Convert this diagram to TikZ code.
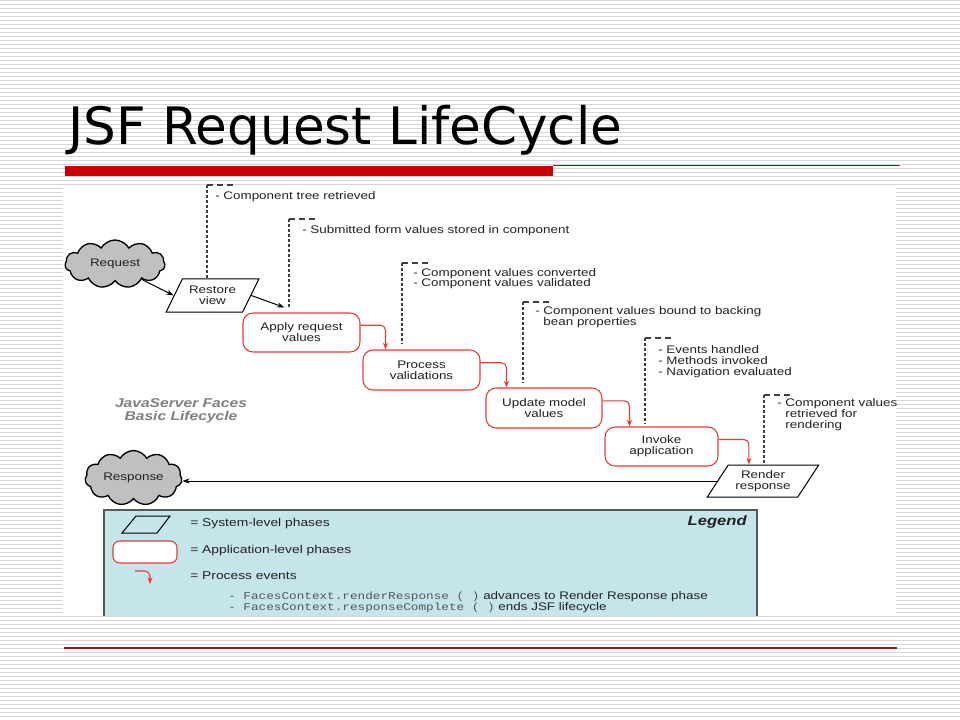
\documentclass[tikz,border=0pt]{standalone}
\usepackage{fontspec}
\setmainfont{Liberation Sans}
\newfontfamily\diag[FakeStretch=1.22]{Liberation Sans}
\newfontfamily\diagmono[FakeStretch=1.22]{Liberation Mono}
\newfontfamily\titlefont{DejaVu Sans}
\usetikzlibrary{shapes.geometric,shapes.symbols,arrows.meta,calc}
\definecolor{appred}{HTML}{E23B3B}
\definecolor{barred}{HTML}{CC0000}
\definecolor{linered}{HTML}{8E1B1B}
\definecolor{stripegray}{HTML}{D6D6D6}
\definecolor{cloudgray}{HTML}{C0C0C0}
\definecolor{legendblue}{HTML}{C5E5EA}
\definecolor{txtgray}{HTML}{222222}
\definecolor{lifegray}{HTML}{808080}
\definecolor{codegray}{HTML}{555555}
\begin{document}
\begin{tikzpicture}[x=0.75pt,y=-0.75pt,
  txt/.style={font=\diag\fontsize{8.25}{8.25}\selectfont, text=txtgray, inner sep=0pt},
  annotxt/.style={font=\diag\fontsize{8.25}{8}\selectfont, text=txtgray, inner sep=0pt, anchor=west, align=left},
  appbox/.style={txt, draw=appred, line width=0.8pt, rounded corners=7.5pt, fill=white, align=center},
  sysbox/.style={txt, trapezium, trapezium stretches=true, draw=black, line width=0.75pt, fill=white, align=center},
  cloudnode/.style={txt, cloud, cloud puffs=11, cloud puff arc=120, aspect=2, draw=black, line width=1pt, fill=cloudgray},
  blkarr/.style={draw=black, line width=0.75pt, -{Stealth[length=5.5pt,width=3.8pt]}},
  redarr/.style={draw=appred, line width=0.8pt, rounded corners=3.75pt, -{Stealth[length=5pt,width=3.8pt]}},
  annotline/.style={draw=black!75, line width=0.8pt, dash pattern=on 2.25pt off 1.5pt},
  annotcap/.style={draw=black!75, line width=0.8pt, dash pattern=on 4.5pt off 3pt},
  legtxt/.style={font=\diag\fontsize{8.5}{8.5}\selectfont, text=txtgray, inner sep=0pt, anchor=west},
]
\useasboundingbox (0,0) rectangle (960,720);
\fill[white] (0,0) rectangle (960,720);
\foreach \k in {0,...,179} \draw[stripegray, line width=0.95pt] (0,{4*\k+0.7}) -- (960,{4*\k+0.7});
\fill[white] (63,186) rectangle (896,616);

% title and rules
\node[anchor=base west, font=\titlefont\fontsize{38.7}{40}\selectfont, inner sep=0pt] (title) at (68,145) {JSF Request LifeCycle};
\fill[barred] (65,166) rectangle (553,176);
\draw[linered, line width=0.9pt] (553,165.5) -- (900,165.5);
\draw[linered, line width=0.9pt] (64,648) -- (897,648);

% nodes
\node[cloudnode, minimum width=75pt, minimum height=36pt] (request) at (115,264) {Request};
\node[sysbox, trapezium left angle=56, trapezium right angle=124, minimum width=69.75pt, minimum height=24.75pt] (restore) at (212.5,295.5) {Restore\\view};
\node[appbox, minimum width=87.75pt, minimum height=29.25pt] (apply) at (301.5,332.5) {Apply request\\values};
\node[appbox, minimum width=87.75pt, minimum height=30pt] (proc) at (421.5,370) {Process\\validations};
\node[appbox, minimum width=87pt, minimum height=30pt] (update) at (544,408) {Update model\\values};
\node[appbox, minimum width=84.75pt, minimum height=29.25pt] (invoke) at (661.5,446.5) {Invoke\\application};
\node[sysbox, trapezium left angle=52, trapezium right angle=128, minimum width=84pt, minimum height=24pt] (render) at (763,481) {Render\\response};
\node[cloudnode, minimum width=72.75pt, minimum height=30pt] (response) at (133.5,478) {Response};

\node[font=\diag\bfseries\itshape\fontsize{9.6}{9.75}\selectfont, text=lifegray, align=center, inner sep=0pt] (lbl) at (181,411) {JavaServer Faces\\Basic Lifecycle};

% connectors
\draw[blkarr] (request.-30) -- (restore.left side);
\draw[blkarr] (restore.right side) -- ([xshift=31.5pt,yshift=3.75pt]apply.north west);
\draw[redarr] (apply.7) -| ([xshift=17.25pt]proc.north west);
\draw[redarr] (proc.7) -| ([xshift=15.75pt]update.north west);
\draw[redarr] (update.7) -| ([xshift=18.75pt]invoke.north west);
\draw[redarr] (invoke.7) -| ([xshift=15.75pt]render.top left corner);
\draw[blkarr] (render.left side) -- (render.left side -| response.east);

% annotations
\coordinate (t1) at (207,185);
\coordinate (t2) at (289,219);
\coordinate (t3) at (402,263);
\coordinate (t4) at (523,302);
\coordinate (t5) at (645,338);
\coordinate (t6) at (764,395);
\foreach \t in {t1,t2,t3,t4,t5,t6} \draw[annotcap] (\t) -- ++(27,0);
\draw[annotline] (t1) -- (t1 |- restore.north);
\draw[annotline] (t2) -- ($(t2 |- apply.north)+(0,-5)$);
\draw[annotline] (t3) -- ($(t3 |- proc.north)+(0,-5)$);
\draw[annotline] (t4) -- ($(t4 |- update.north)+(0,-5)$);
\draw[annotline] (t5) -- ($(t5 |- invoke.north)+(0,-2)$);
\draw[annotline] (t6) -- (t6 |- render.north);
\node[annotxt] (n1) at (215,197) {- Component tree retrieved};
\node[annotxt] (n2) at (302,231) {- Submitted form values stored in component};
\node[annotxt] (n3) at (413,278.5) {- Component values converted\\- Component values validated};
\node[annotxt] (n4) at (535,317) {- Component values bound to backing\\\hphantom{- }bean properties};
\node[annotxt] (n5) at (658,361.5) {- Events handled\\- Methods invoked\\- Navigation evaluated};
\node[annotxt] (n6) at (777,414.5) {- Component values\\\hphantom{- }retrieved for\\\hphantom{- }rendering};

% legend
\fill[legendblue] (104,510) rectangle (757,616);
\draw[black!65, line width=0.9pt] (104,616) -- (104,510) -- (757,510) -- (757,616);
\node[font=\diag\bfseries\itshape\fontsize{10.2}{10.5}\selectfont, text=txtgray, inner sep=0pt, anchor=east] (legendlabel) at (747,522) {Legend};
\draw[black, line width=0.75pt] (136,516) -- (170,516) -- (157,533) -- (122,533) -- cycle;
\draw[appred, line width=0.8pt, rounded corners=5pt, fill=white] (113,541) rectangle (177,563);
\draw[redarr] (135,571) -| (150,584);
\node[legtxt] (l1) at (190,524) {= System-level phases};
\node[legtxt] (l2) at (190,551) {= Application-level phases};
\node[legtxt] (l3) at (190,576) {= Process events};
\node[legtxt, font=\diag\fontsize{8.25}{8.25}\selectfont] (c1) at (228,597) {{\diagmono\fontsize{7.8}{8}\selectfont\color{codegray}- FacesContext.renderResponse ( )} advances to Render Response phase};
\node[legtxt, font=\diag\fontsize{8.25}{8.25}\selectfont] (c2) at (228,608) {{\diagmono\fontsize{7.8}{8}\selectfont\color{codegray}- FacesContext.responseComplete ( )} ends JSF lifecycle};
\end{tikzpicture}
\end{document}
